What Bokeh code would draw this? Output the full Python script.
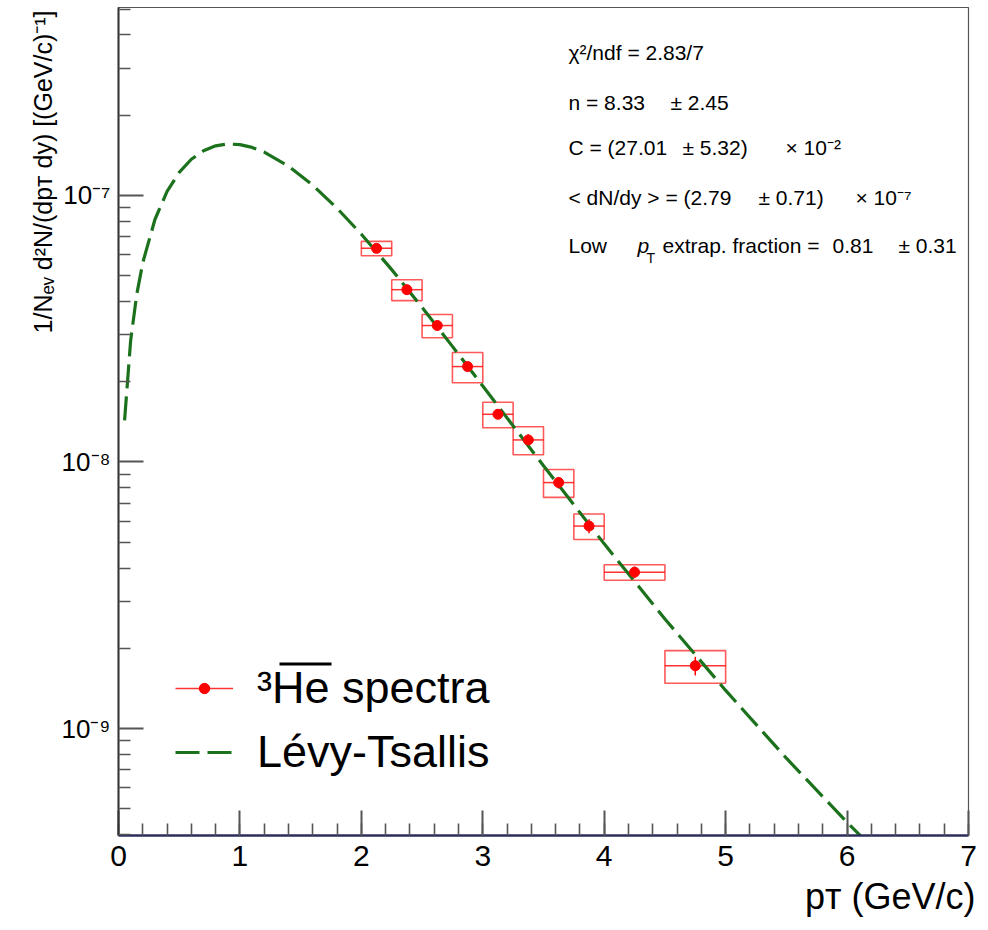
from bokeh.plotting import figure
from bokeh.models import (Range1d, FixedTicker, Label, Legend, LegendItem,
                          BoxAnnotation, ColumnDataSource, Title)
from bokeh.embed import file_html
from bokeh.resources import INLINE

# ---------------- data ----------------
pt_center = [2.125, 2.375, 2.625, 2.875, 3.125, 3.375, 3.625, 3.875, 4.25, 4.75]
pt_halfwidth = [0.125, 0.125, 0.125, 0.125, 0.125, 0.125, 0.125, 0.125, 0.25, 0.25]
spectrum = [6.33e-8, 4.43e-8, 3.25e-8, 2.28e-8, 1.51e-8, 1.21e-8, 8.37e-9, 5.75e-9, 3.86e-9, 1.72e-9]
stat_rel = [0.03, 0.03, 0.03, 0.04, 0.04, 0.05, 0.05, 0.06, 0.05, 0.08]
sys_rel = [0.062, 0.09, 0.10, 0.13, 0.11, 0.12, 0.12, 0.11, 0.067, 0.14]

fit_pt = [0.05, 0.1, 0.15, 0.2, 0.3, 0.4, 0.5, 0.6, 0.7, 0.8, 0.9, 1.0, 1.1, 1.2,
          1.4, 1.6, 1.8, 2.0, 2.25, 2.5, 2.75, 3.0, 3.5, 4.0, 4.5, 5.0, 5.5, 6.0, 6.5]
fit_val = [1.434e-8, 2.853e-8, 4.245e-8, 5.595e-8, 8.123e-8, 1.035e-7, 1.221e-7,
           1.367e-7, 1.471e-7, 1.535e-7, 1.560e-7, 1.551e-7, 1.514e-7, 1.454e-7,
           1.288e-7, 1.092e-7, 8.95e-8, 7.155e-8, 5.268e-8, 3.805e-8, 2.715e-8,
           1.927e-8, 9.68e-9, 4.93e-9, 2.578e-9, 1.39e-9, 7.74e-10, 4.45e-10, 2.63e-10]

x_ticks = [0, 1, 2, 3, 4, 5, 6, 7]
x_tick_labels = ["0", "1", "2", "3", "4", "5", "6", "7"]
y_ticks = [1e-9, 1e-8, 1e-7]
y_tick_labels = ["10\u207b\u2079", "10\u207b\u2078", "10\u207b\u2077"]

x_title = "p\u1d1b (GeV/c)"
y_title = "1/N\u2091\u1d65 d\u00b2N/(dp\u1d1b dy) [(GeV/c)\u207b\u00b9]"
legend_labels = ["\u00b3He spectra", "L\u00e9vy-Tsallis"]

NB = "\u00a0"
# (text, x position, size, style, baseline shift) for each fit-result row
stat_rows = [
    [("\u03c7\u00b2/ndf" + NB + "=" + NB + "2.83/7", 568, 21, "normal", 0)],
    [("n" + NB + "=" + NB + "8.33", 568, 21, "normal", 0),
     ("\u00b1" + NB + "2.45", 670, 21, "normal", 0)],
    [("C" + NB + "=" + NB + "(27.01", 568, 21, "normal", 0),
     ("\u00b1" + NB + "5.32)", 682, 21, "normal", 0),
     ("\u00d7" + NB + "10\u207b\u00b2", 785, 21, "normal", 0)],
    [("<" + NB + "dN/dy" + NB + ">" + NB + "=" + NB + "(2.79", 568, 21, "normal", 0),
     ("\u00b1" + NB + "0.71)", 758, 21, "normal", 0),
     ("\u00d7" + NB + "10\u207b\u2077", 855, 21, "normal", 0)],
    [("Low", 568, 21, "normal", 0),
     ("p", 637, 21, "italic", 0),
     ("T", 646, 14, "normal", 12),
     ("extrap." + NB + "fraction" + NB + "=", 662, 21, "normal", 0),
     ("0.81", 832, 21, "normal", 0),
     ("\u00b1" + NB + "0.31", 898, 21, "normal", 0)],
]
stat_baselines = [52, 102, 147, 197, 245]

# ---------------- styling ----------------
FONT = "Liberation Sans"
RED = "#ff0000"
GREEN = "#1c721c"

# frame position in page pixels (used for screen-unit annotations)
FX0, FY1 = 118, 835

p = figure(width=986, height=928, y_axis_type="log",
           x_range=Range1d(0, 7), y_range=Range1d(3.97e-10, 5.07e-7),
           output_backend="svg", toolbar_location=None,
           min_border_left=118, min_border_right=18,
           min_border_top=7, min_border_bottom=93)
p.grid.visible = False
p.outline_line_color = "#555555"
p.outline_line_width = 1.2
p.background_fill_color = "white"
p.border_fill_color = "white"

# axes
p.xaxis.ticker = FixedTicker(ticks=x_ticks,
                             minor_ticks=[i * 0.2 for i in range(36)])
p.xaxis.major_label_overrides = dict(zip(x_ticks, x_tick_labels))
minors = []
for e in range(-10, -6):
    for k in range(2, 10):
        minors.append(k * 10.0 ** e)
p.yaxis.ticker = FixedTicker(ticks=y_ticks, minor_ticks=minors)
p.yaxis.major_label_overrides = dict(zip(y_ticks, y_tick_labels))

for ax in (p.xaxis[0], p.yaxis[0]):
    ax.major_tick_in = 25
    ax.major_tick_out = 0
    ax.minor_tick_in = 12
    ax.minor_tick_out = 0
    ax.major_tick_line_color = "#555555"
    ax.minor_tick_line_color = "#555555"
    ax.major_tick_line_width = 2
    ax.minor_tick_line_width = 1.6
    ax.major_label_text_font = FONT
    ax.major_label_text_color = "black"
p.xaxis.axis_line_color = "#2c2c5a"
p.xaxis.axis_line_width = 2.5
p.yaxis.axis_line_color = "#333333"
p.yaxis.axis_line_width = 2
p.xaxis.major_label_text_font_size = "30px"
p.xaxis.major_label_standoff = 10
p.yaxis.major_label_text_font_size = "26px"
p.yaxis.major_label_standoff = 8

# axis titles (side panels, right/top aligned as in the reference)
p.add_layout(Title(text=y_title, align="right", offset=3, standoff=4,
                   text_font=FONT, text_font_size="25px",
                   text_font_style="normal", text_color="black"), "left")
p.add_layout(Title(text=x_title, align="right", offset=-7, standoff=11,
                   text_font=FONT, text_font_size="36px",
                   text_font_style="normal", text_color="black"), "below")

# ---------------- data glyphs ----------------
src = ColumnDataSource(dict(
    x=pt_center,
    y=spectrum,
    left=[c - h for c, h in zip(pt_center, pt_halfwidth)],
    right=[c + h for c, h in zip(pt_center, pt_halfwidth)],
    top=[v * (1 + s) for v, s in zip(spectrum, sys_rel)],
    bottom=[v * (1 - s) for v, s in zip(spectrum, sys_rel)],
    ylo=[v * (1 - s) for v, s in zip(spectrum, stat_rel)],
    yhi=[v * (1 + s) for v, s in zip(spectrum, stat_rel)],
))

p.quad(left="left", right="right", top="top", bottom="bottom", source=src,
       fill_alpha=0, line_color=RED, line_alpha=0.65, line_width=1.6)
hbar = p.segment(x0="left", x1="right", y0="y", y1="y", source=src,
                 line_color=RED, line_alpha=0.8, line_width=1.5)
p.segment(x0="x", x1="x", y0="ylo", y1="yhi", source=src,
          line_color=RED, line_width=1.5)
curve = p.line(fit_pt, fit_val, line_color=GREEN, line_width=3.2,
               line_dash="24 8")
pts = p.scatter(x="x", y="y", source=src, size=10, color=RED)

# ---------------- legend ----------------
legend = Legend(items=[LegendItem(label=legend_labels[0], renderers=[hbar, pts]),
                       LegendItem(label=legend_labels[1], renderers=[curve])],
                location=(57, 57), padding=0, margin=0, spacing=12,
                glyph_width=58, glyph_height=26, label_height=50,
                label_standoff=24, label_text_font=FONT,
                label_text_font_size="45px", label_text_color="black",
                background_fill_alpha=0, border_line_alpha=0)
p.add_layout(legend)
# overline over "He"
p.add_layout(BoxAnnotation(left=279 - FX0, right=331 - FX0,
                           top=FY1 - 662, bottom=FY1 - 665,
                           left_units="screen", right_units="screen",
                           top_units="screen", bottom_units="screen",
                           fill_color="black", fill_alpha=1, line_alpha=0))

# ---------------- fit results text ----------------
for row, base in zip(stat_rows, stat_baselines):
    for text, px, size, style, dy in row:
        p.add_layout(Label(x=px - FX0, y=FY1 - (base + dy),
                           x_units="screen", y_units="screen", text=text,
                           text_font=FONT, text_font_size=f"{size}px",
                           text_font_style=style, text_color="black",
                           text_align="left", text_baseline="alphabetic"))

open("out.html", "w").write(file_html(p, INLINE))
